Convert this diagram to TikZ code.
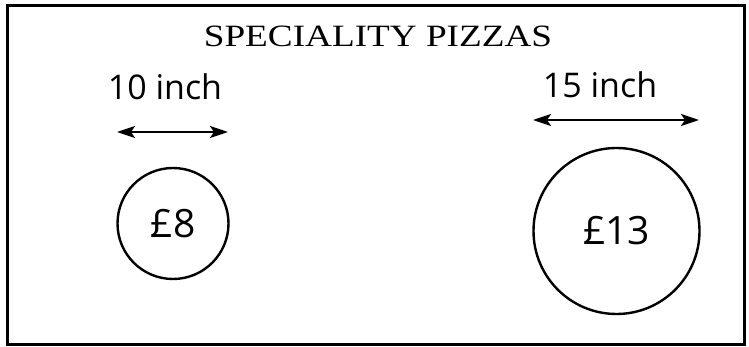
\documentclass[tikz,border=0pt]{standalone}
\usepackage{fontspec}
\setmainfont{Liberation Serif}
\newfontfamily\labfont{Open Sans}
\usetikzlibrary{arrows.meta}
\tikzset{
  frame/.style={draw, line width=2.6pt},
  pizza/.style={draw, circle, line width=2.4pt, inner sep=0pt, font=\labfont\fontsize{39}{44}\selectfont},
  lbl/.style={font=\labfont\fontsize{34}{38}\selectfont, inner sep=0pt},
  dim/.style={line width=2.4pt, {Stealth[length=18pt,width=12pt,inset=4pt]}-{Stealth[length=18pt,width=12pt,inset=4pt]}},
  ttl/.style={font=\fontsize{31}{36}\selectfont, inner sep=0pt}
}
\begin{document}
\begin{tikzpicture}[x=1pt,y=-1pt]
\useasboundingbox (0,0) rectangle (749,347);
\node[frame, minimum width=737pt, minimum height=339pt, anchor=north west] (box) at (6,4) {};
\node[ttl, anchor=base] (title) at (378,47) {\scalebox{1.2}[1]{SPECIALITY PIZZAS}};
\node[lbl, anchor=base] (l10) at (165,100) {10 inch};
\node[lbl, anchor=base] (l15) at (600,98) {15 inch};
\coordinate (s1) at (117,132);
\coordinate (s2) at (228,132);
\coordinate (b1) at (533,120);
\coordinate (b2) at (699,120);
\draw[dim] (s1) -- (s2);
\draw[dim] (b1) -- (b2);
\node[pizza, minimum size=111pt] (p8) at (173,223.5) {£8};
\node[pizza, minimum size=166pt] (p13) at (616.5,231) {£13};
\end{tikzpicture}
\end{document}
